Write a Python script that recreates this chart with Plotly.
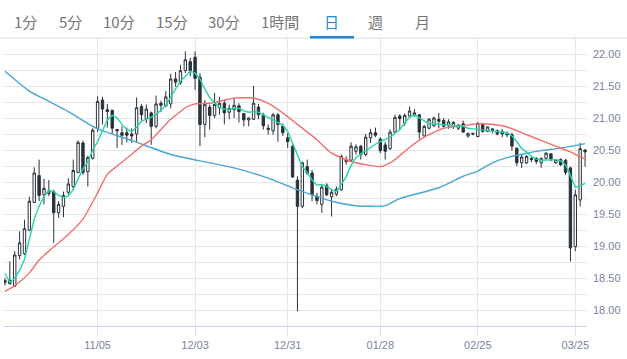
import pandas as pd
import plotly.graph_objects as go

# ---------------- data ----------------
start_date = "2018-10-09"
end_date = "2019-03-27"
closed_days = ["2018-12-25", "2019-01-01"]
dates = [d.strftime("%Y-%m-%d") for d in pd.bdate_range(start_date, end_date)
         if d.strftime("%Y-%m-%d") not in closed_days]

opens = [18.43, 18.46, 18.37, 18.85, 18.88, 19.25, 19.68, 20.10, 19.80, 19.82,
         19.85, 19.52, 19.62, 19.84, 19.93, 20.15, 20.61, 20.16, 20.37, 20.84,
         21.28, 21.13, 21.12, 20.82, 20.77, 20.77, 20.75, 20.75, 21.18, 20.99,
         21.08, 20.87, 21.23, 21.19, 21.22, 21.61, 21.55, 21.74, 21.88, 21.95,
         21.64, 20.90, 21.17, 21.04, 21.16, 21.23, 21.09, 21.13, 21.19, 21.07,
         20.97, 20.98, 21.17, 21.05, 20.84, 20.80, 21.05, 20.87, 20.69, 20.56,
         20.03, 19.62, 20.24, 20.14, 19.78, 19.65, 19.95, 19.77, 19.81, 19.88,
         20.35, 20.34, 20.48, 20.56, 20.43, 20.69, 20.77, 20.67, 20.58, 20.52,
         20.78, 21.03, 20.92, 21.03, 21.08, 21.05, 20.72, 20.84, 20.88, 20.98,
         20.96, 20.88, 20.87, 20.84, 20.91, 20.72, 20.76, 20.71, 20.91, 20.79,
         20.83, 20.80, 20.79, 20.75, 20.74, 20.53, 20.30, 20.30, 20.37, 20.37,
         20.30, 20.37, 20.44, 20.30, 20.35, 20.34, 20.22, 18.99, 19.72, 20.50]
highs = [18.50, 18.76, 18.92, 19.23, 19.41, 19.77, 20.23, 20.35, 20.05, 20.03,
         19.88, 19.70, 19.85, 20.06, 20.35, 20.65, 20.65, 20.41, 20.84, 21.34,
         21.33, 21.22, 21.13, 20.83, 20.87, 20.85, 20.84, 21.32, 21.22, 21.21,
         21.10, 21.35, 21.27, 21.42, 21.69, 21.72, 21.83, 22.04, 21.94, 22.04,
         21.70, 21.28, 21.21, 21.39, 21.33, 21.28, 21.21, 21.31, 21.23, 21.08,
         21.01, 21.50, 21.22, 21.08, 20.90, 21.08, 21.08, 20.91, 20.77, 20.58,
         20.09, 20.32, 20.35, 20.19, 19.83, 19.96, 19.98, 19.88, 19.93, 20.43,
         20.40, 20.62, 20.59, 20.58, 20.75, 20.83, 20.85, 20.70, 20.63, 20.82,
         21.05, 21.06, 21.07, 21.18, 21.14, 21.06, 20.89, 21.00, 21.02, 21.08,
         21.00, 20.98, 20.95, 20.90, 20.96, 20.77, 20.77, 20.93, 20.91, 20.87,
         20.84, 20.82, 20.83, 20.79, 20.77, 20.53, 20.43, 20.42, 20.39, 20.39,
         20.38, 20.47, 20.45, 20.36, 20.37, 20.36, 20.24, 19.88, 20.61, 20.51]
lows = [18.38, 18.40, 18.36, 18.79, 18.86, 19.23, 19.67, 19.70, 19.65, 19.78,
        19.05, 19.44, 19.45, 19.80, 19.88, 20.14, 20.11, 19.93, 20.35, 20.78,
        20.90, 20.85, 20.75, 20.53, 20.58, 20.62, 20.61, 20.62, 20.96, 20.92,
        20.58, 20.84, 21.09, 21.17, 21.15, 21.49, 21.52, 21.70, 21.65, 21.44,
        20.56, 20.70, 20.82, 21.00, 21.05, 20.90, 20.98, 21.00, 20.93, 20.87,
        20.87, 20.97, 20.98, 20.82, 20.74, 20.74, 20.63, 20.72, 20.53, 20.06,
        17.98, 19.59, 20.11, 19.70, 19.65, 19.52, 19.78, 19.46, 19.78, 19.86,
        20.27, 20.32, 20.43, 20.35, 20.40, 20.61, 20.70, 20.45, 20.35, 20.50,
        20.77, 20.82, 20.88, 21.02, 21.02, 20.67, 20.71, 20.82, 20.86, 20.84,
        20.85, 20.83, 20.83, 20.81, 20.77, 20.69, 20.73, 20.70, 20.77, 20.78,
        20.76, 20.73, 20.70, 20.70, 20.49, 20.25, 20.22, 20.28, 20.31, 20.28,
        20.22, 20.35, 20.32, 20.28, 20.25, 20.11, 18.76, 18.92, 19.62, 20.24]
closes = [18.46, 18.41, 18.86, 19.05, 19.27, 19.70, 20.14, 19.79, 19.90, 19.86,
          19.52, 19.65, 19.79, 19.97, 20.18, 20.62, 20.15, 20.38, 20.81, 21.26,
          21.14, 21.10, 20.84, 20.80, 20.73, 20.73, 20.72, 21.16, 21.05, 21.14,
          20.87, 21.22, 21.20, 21.33, 21.61, 21.56, 21.74, 21.91, 21.74, 21.62,
          20.90, 21.21, 21.04, 21.21, 21.23, 21.08, 21.15, 21.20, 21.10, 20.97,
          21.00, 21.23, 21.05, 20.88, 20.82, 21.05, 20.90, 20.77, 20.63, 20.08,
          19.62, 20.30, 20.14, 19.80, 19.71, 19.92, 19.80, 19.84, 19.89, 20.40,
          20.32, 20.56, 20.55, 20.43, 20.70, 20.77, 20.73, 20.49, 20.48, 20.78,
          21.01, 20.99, 21.04, 21.11, 21.04, 20.78, 20.87, 20.98, 21.00, 20.95,
          20.87, 20.94, 20.93, 20.89, 20.78, 20.76, 20.75, 20.92, 20.79, 20.86,
          20.81, 20.75, 20.75, 20.74, 20.56, 20.30, 20.39, 20.40, 20.35, 20.32,
          20.37, 20.45, 20.36, 20.35, 20.27, 20.15, 18.97, 19.80, 20.52, 20.47]

# short moving average (teal), read per trading day
ma_short = [18.57, 18.43, 18.50, 18.62, 18.79, 19.12, 19.42, 19.62, 19.77, 19.87,
            19.85, 19.79, 19.76, 19.78, 19.88, 20.05, 20.20, 20.32, 20.50, 20.63,
            20.80, 20.97, 21.04, 21.00, 20.90, 20.82, 20.79, 20.86, 20.95, 20.98,
            21.01, 21.06, 21.12, 21.20, 21.33, 21.45, 21.58, 21.65, 21.73, 21.70,
            21.61, 21.45, 21.32, 21.24, 21.17, 21.14, 21.13, 21.15, 21.15, 21.11,
            21.09, 21.10, 21.09, 21.05, 21.01, 20.98, 20.94, 20.89, 20.79, 20.60,
            20.40, 20.24, 20.15, 20.03, 19.95, 19.96, 19.93, 19.88, 19.85, 19.96,
            20.08, 20.26, 20.38, 20.44, 20.49, 20.55, 20.59, 20.63, 20.66, 20.70,
            20.76, 20.82, 20.92, 21.01, 21.05, 21.00, 20.95, 20.91, 20.91, 20.90,
            20.90, 20.88, 20.87, 20.87, 20.87, 20.84, 20.83, 20.82, 20.81, 20.81,
            20.80, 20.79, 20.78, 20.77, 20.72, 20.63, 20.52, 20.47, 20.40, 20.36,
            20.34, 20.34, 20.35, 20.35, 20.33, 20.27, 20.10, 19.92, 19.94, 19.98]

# medium moving average (red), read at sampled trading days
ma_mid_day = [0, 2, 5, 7, 9, 11, 13, 16, 19, 21, 23, 25, 28, 30, 32, 34, 36, 37, 39,
              42, 45, 47, 51, 54, 57, 60, 64, 67, 71, 74, 77, 79, 80, 83, 86, 90,
              94, 97, 101, 103, 107, 110, 113, 116, 117, 119]
ma_mid = [18.29, 18.38, 18.58, 18.78, 18.92, 19.05, 19.18, 19.42, 19.83, 20.12,
          20.25, 20.37, 20.56, 20.66, 20.82, 20.98, 21.10, 21.16, 21.22,
          21.23, 21.28, 21.31, 21.31, 21.23, 21.08, 20.90, 20.66, 20.45, 20.32,
          20.27, 20.24, 20.30, 20.35, 20.54, 20.70, 20.84,
          20.88, 20.91, 20.89, 20.86, 20.74, 20.65, 20.56, 20.47, 20.43, 20.36]

# long moving average (blue), read at sampled trading days
ma_long_day = [0, 5, 9, 13, 19, 26, 34, 40, 47, 54, 60, 67, 72, 77, 78, 81, 89, 94,
               97, 100, 103, 107, 110, 114, 119]
ma_long = [21.73, 21.42, 21.26, 21.10, 20.83, 20.65, 20.43, 20.33, 20.22, 20.06,
           19.88, 19.70, 19.63, 19.62, 19.63, 19.74, 19.91, 20.09,
           20.17, 20.30, 20.38, 20.45, 20.49, 20.53, 20.60]

tick_dates = ["2018-11-05", "2018-12-03", "2018-12-31", "2019-01-28", "2019-02-25", "2019-03-25"]
tick_labels = ["11/05", "12/03", "12/31", "01/28", "02/25", "03/25"]

y_ticks = [18.0 + 0.25 * k for k in range(17)]
y_tick_text = [("%.2f" % v) if abs((v * 2) - round(v * 2)) < 1e-9 else "" for v in y_ticks]

tabs = ["1分", "5分", "10分", "15分", "30分", "1時間", "日", "週", "月"]
tab_active = "日"

# ---------------- layout helpers (pixels -> paper) ----------------
W, H = 627, 359
ML, MR, MT, MB = 4, 40, 38, 33
PW, PH = W - ML - MR, H - MT - MB


def px(x):
    return (x - ML) / PW


def py(y):
    return (H - MB - y) / PH


DARK = "#29323a"
fig = go.Figure()
fig.add_trace(go.Candlestick(
    x=dates, open=opens, high=highs, low=lows, close=closes,
    increasing=dict(line=dict(color=DARK, width=1), fillcolor="#ffffff"),
    decreasing=dict(line=dict(color=DARK, width=1), fillcolor=DARK),
    whiskerwidth=0, showlegend=False, hoverinfo="skip",
))
fig.add_trace(go.Scatter(x=[dates[i] for i in ma_long_day], y=ma_long, mode="lines",
                         line=dict(color="#4aa6d2", width=1.4, shape="spline", smoothing=0.6),
                         showlegend=False, hoverinfo="skip"))
fig.add_trace(go.Scatter(x=[dates[i] for i in ma_mid_day], y=ma_mid, mode="lines",
                         line=dict(color="#f36e6e", width=1.4, shape="spline", smoothing=0.6),
                         showlegend=False, hoverinfo="skip"))
fig.add_trace(go.Scatter(x=dates, y=ma_short, mode="lines",
                         line=dict(color="#25d4a8", width=1.4),
                         showlegend=False, hoverinfo="skip"))

tab_centers = [25.8, 70, 119.3, 171.7, 224, 280.3, 331.7, 375.8, 422]
annotations = []
for t, cx in zip(tabs, tab_centers):
    annotations.append(dict(
        text=t, xref="paper", yref="paper", x=px(cx), y=py(21.5),
        xanchor="center", yanchor="middle", showarrow=False,
        font=dict(family="Noto Sans CJK JP", size=15,
                  color="#1e88d2" if t == tab_active else "#757575")))

shapes = [
    dict(type="line", xref="paper", yref="paper", x0=px(0), x1=px(W), y0=py(38), y1=py(38),
         line=dict(color="#dcdcdc", width=1)),
    dict(type="line", xref="paper", yref="paper", x0=px(310), x1=px(354), y0=py(37.3), y1=py(37.3),
         line=dict(color="#1e88d2", width=2.5)),
]

fig.update_layout(
    width=W, height=H,
    margin=dict(l=ML, r=MR, t=MT, b=MB),
    paper_bgcolor="#ffffff", plot_bgcolor="#ffffff",
    font=dict(family="Liberation Sans, Arial, sans-serif"),
    annotations=annotations, shapes=shapes,
    hovermode=False,
)
fig.update_xaxes(
    type="category", range=[-0.2, 119.4],
    tickvals=tick_dates, ticktext=tick_labels,
    showgrid=True, gridcolor="#e6e6e6", gridwidth=1,
    ticks="outside", ticklen=9, tickcolor="#dfe4ee",
    showline=True, linecolor="#c8d2e6", linewidth=1,
    tickfont=dict(size=11, color="#7a849c"),
    rangeslider=dict(visible=False), zeroline=False,
)
fig.update_yaxes(
    range=[17.75, 22.25], side="right",
    tickvals=y_ticks, ticktext=y_tick_text,
    showgrid=True, gridcolor="#e6e6e6", gridwidth=1,
    ticks="", ticklabelstandoff=5,
    showline=False, zeroline=False,
    tickfont=dict(size=11, color="#7a849c"),
)

fig.write_html("out.html", config={"displayModeBar": False},
               post_script="document.body.style.margin='0';document.body.style.overflow='hidden';")
